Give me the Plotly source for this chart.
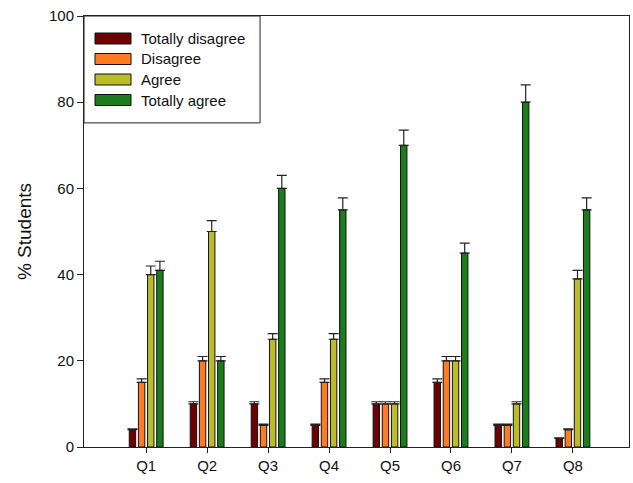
import plotly.graph_objects as go

questions = ["Q1", "Q2", "Q3", "Q4", "Q5", "Q6", "Q7", "Q8"]
series_names = ["Totally disagree", "Disagree", "Agree", "Totally agree"]

totally_disagree = [4, 10, 10, 5, 10, 15, 5, 2]
disagree = [15, 20, 5, 15, 10, 20, 5, 4]
agree = [40, 50, 25, 25, 10, 20, 10, 39]
totally_agree = [41, 20, 60, 55, 70, 45, 80, 55]

err_totally_disagree = [0.2, 0.5, 0.5, 0.3, 0.5, 0.8, 0.3, 0.1]
err_disagree = [0.8, 1.0, 0.3, 0.8, 0.5, 1.0, 0.3, 0.2]
err_agree = [2.0, 2.5, 1.3, 1.3, 0.5, 1.0, 0.5, 2.0]
err_totally_agree = [2.1, 1.0, 3.0, 2.8, 3.5, 2.3, 4.0, 2.8]

colors = ["#6e0000", "#ff7a22", "#bcbc2a", "#1a7c1a"]

values = [totally_disagree, disagree, agree, totally_agree]
errors = [err_totally_disagree, err_disagree, err_agree, err_totally_agree]

fig = go.Figure()
for name, vals, errs, col in zip(series_names, values, errors, colors):
    fig.add_trace(go.Bar(
        x=questions, y=vals, name=name,
        marker=dict(color=col, line=dict(color="#111111", width=1)),
        error_y=dict(type="data", symmetric=False, array=errs,
                     arrayminus=[0] * len(errs),
                     color="#222222", thickness=1.2, width=5),
        showlegend=False,
    ))

# hand-drawn legend box in the upper-left corner of the plot area
shapes = [dict(type="rect", xref="paper", yref="paper",
               x0=0.0, x1=0.323, y0=0.752, y1=1.0,
               line=dict(color="#222222", width=1), fillcolor="white", layer="above")]
annotations = []
row_px = 20.5
plot_h = 431.0
plot_w = 545.0
for i, (name, col) in enumerate(zip(series_names, colors)):
    yc = 1 - (22.5 + i * row_px) / plot_h
    shapes.append(dict(type="rect", xref="paper", yref="paper",
                       x0=11 / plot_w, x1=47 / plot_w,
                       y0=yc - 5.5 / plot_h, y1=yc + 5.5 / plot_h,
                       fillcolor=col, line=dict(color="#111111", width=1),
                       layer="above"))
    annotations.append(dict(xref="paper", yref="paper", x=55 / plot_w, y=yc,
                            text=name, showarrow=False, xanchor="left",
                            yanchor="middle",
                            font=dict(size=15, color="#111111",
                                      family="Liberation Sans, Arial")))

fig.update_layout(
    width=633, height=483,
    margin=dict(l=84, r=4, t=16, b=36),
    paper_bgcolor="white", plot_bgcolor="white",
    barmode="group", bargap=0.4, bargroupgap=0.3,
    font=dict(family="Liberation Sans, Arial", size=15, color="#111111"),
    shapes=shapes, annotations=annotations,
    xaxis=dict(range=[-1.02, 7.92], showline=True, linecolor="#222222",
               linewidth=1, mirror=True, ticks="outside", ticklen=5,
               tickcolor="#222222", showgrid=False,
               tickfont=dict(size=15)),
    yaxis=dict(range=[0, 100], tickvals=[0, 20, 40, 60, 80, 100],
               showline=True, linecolor="#222222", linewidth=1, mirror=True,
               ticks="outside", ticklen=6, tickcolor="#222222",
               showgrid=False, zeroline=False,
               tickfont=dict(size=15),
               title=dict(text="% Students", font=dict(size=19), standoff=12)),
)

fig.write_html("out.html")
